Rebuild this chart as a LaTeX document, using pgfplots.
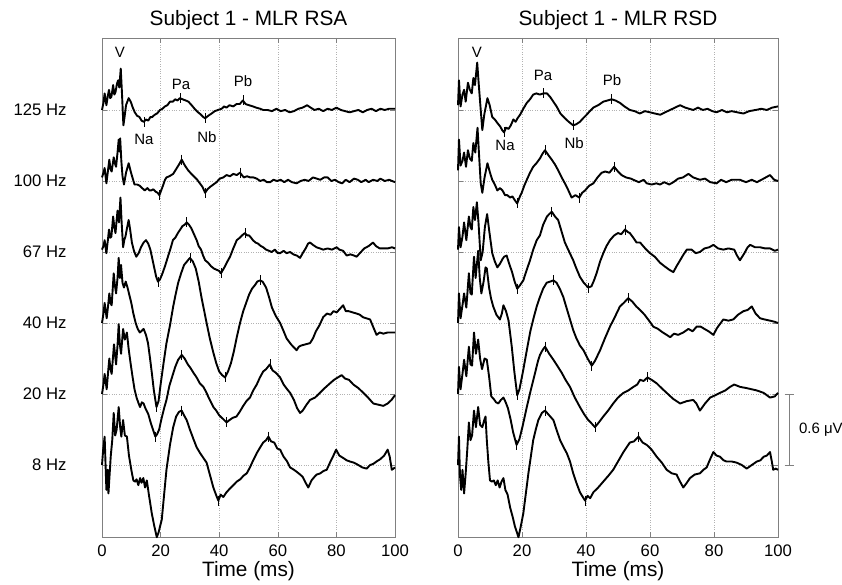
\documentclass[border=0pt]{standalone}
\usepackage{fontspec}
\setmainfont{Liberation Sans}
\usepackage{pgfplots}
\pgfplotsset{compat=1.18}

\pgfplotsset{
  mlr/.style={
    scale only axis, height=499pt,
    xmin=0, xmax=100, ymin=-0.608, ymax=3.608,
    xtick={0,20,...,100}, ytick={0,0.6,1.2,1.8,2.4,3.0},
    grid=major, major grid style={gray!60, dotted, line width=0.6pt},
    axis line style={gray, line width=0.7pt},
    tick style={gray, line width=0.6pt}, major tick length=5pt, tick align=inside,
    ticklabel style={font=\fontsize{16.7}{19}\selectfont},
    xticklabel style={yshift=-4pt},
    /pgf/number format/assume math mode=true,
    title style={font=\fontsize{20.8}{24}\selectfont, yshift=-1pt},
    xlabel={Time (ms)}, xlabel style={font=\fontsize{20.8}{24}\selectfont, yshift=2pt},
    clip=false,
    every axis plot/.append style={black, line width=1.9pt, line join=round},
  },
  off/.style={y filter/.expression={y+#1}},
  pk/.style={only marks, mark=|, mark size=5pt, mark options={line width=0.7pt, black}},
}
\newcommand{\lab}[1]{\fontsize{15}{17}\selectfont #1}

\begin{document}
\begin{tikzpicture}
\useasboundingbox (0,0) rectangle (842pt,584pt);

% ---------------- left panel: RSA ----------------
\begin{axis}[mlr, at={(102pt,47pt)}, anchor=south west, width=293pt,
  title={Subject 1 - MLR RSA},
  yticklabels={8 Hz,20 Hz,40 Hz,67 Hz,100 Hz,125 Hz},
  yticklabel style={xshift=-32pt}]
% 125 Hz
\addplot[off=3.0] coordinates {(0,0.00)(0.5,0.06)(0.9,0.14)(1.5,0.04)(2.0,0.12)(2.4,0.17)(2.8,0.10)(3.2,0.11)(3.8,0.21)(4.2,0.13)(4.6,0.15)(5.1,0.22)(5.5,0.25)(5.9,0.19)(6.4,0.35)(6.8,0.15)(7.3,-0.13)(7.7,-0.06)(8.2,0.04)(9.1,0.10)(9.8,0.07)(10.5,0.02)(11.2,-0.02)(12.0,-0.05)(12.8,-0.06)(13.5,-0.09)(14.3,-0.10)(15.0,-0.08)(15.8,-0.09)(16.5,-0.06)(17.1,-0.06)(18.0,-0.04)(18.8,-0.03)(19.8,0.00)(20.6,0.01)(21.5,0.03)(22.3,0.04)(23.2,0.07)(24.2,0.07)(25.0,0.09)(25.8,0.08)(26.6,0.10)(27.5,0.09)(28.6,0.08)(29.5,0.07)(30.6,0.04)(31.6,0.01)(32.8,-0.02)(33.8,-0.04)(34.6,-0.06)(35.2,-0.07)(36.2,-0.05)(37.4,-0.03)(38.5,-0.01)(39.6,0.00)(40.8,0.01)(41.7,0.03)(42.5,0.02)(43.5,0.04)(44.8,0.03)(45.9,0.05)(47.0,0.05)(48.1,0.08)(49.0,0.05)(50.2,0.04)(51.5,0.03)(52.6,0.02)(54.0,0.01)(55.0,0.00)(56.5,0.00)(58.0,-0.01)(59.5,0.01)(61.0,-0.01)(62.5,0.00)(64.0,-0.02)(65.5,-0.01)(67.0,0.01)(68.5,0.02)(70.0,0.04)(71.2,0.02)(72.5,0.00)(74.0,0.01)(75.5,-0.01)(77.0,0.01)(78.5,0.00)(80.0,0.02)(81.5,0.00)(83.0,-0.01)(84.5,-0.02)(86.0,-0.01)(87.5,0.00)(89.0,-0.02)(90.5,0.00)(92.0,0.01)(93.5,-0.01)(95.0,0.01)(96.5,0.00)(98.0,0.01)(100,0.01)};
% 100 Hz
\addplot[off=2.4] coordinates {(0,0.03)(0.5,0.07)(0.9,0.11)(1.5,-0.02)(2.0,0.08)(2.5,0.18)(2.9,0.10)(3.3,0.08)(4.0,0.20)(4.4,0.15)(4.8,0.12)(5.3,0.24)(5.7,0.35)(5.95,0.25)(6.2,0.36)(6.6,0.17)(7.0,0.04)(7.5,-0.03)(8.2,0.07)(9.1,0.15)(9.8,0.08)(10.5,0.02)(11.1,-0.03)(12.0,-0.03)(12.9,-0.04)(13.7,-0.06)(14.6,-0.08)(15.5,-0.06)(16.2,-0.08)(16.8,-0.08)(17.5,-0.07)(18.3,-0.09)(19.0,-0.10)(19.6,-0.12)(20.2,-0.08)(20.8,-0.04)(21.5,0.01)(22.0,0.03)(23.0,0.04)(24.3,0.06)(25.3,0.10)(26.3,0.14)(27.2,0.18)(28.3,0.13)(29.4,0.09)(30.5,0.06)(31.7,0.03)(32.5,0.01)(33.4,-0.02)(34.3,-0.05)(35.2,-0.10)(36.0,-0.07)(36.9,-0.05)(38.0,-0.03)(39.1,-0.01)(40.2,0.02)(41.4,0.03)(42.5,0.05)(43.7,0.04)(44.8,0.06)(46.0,0.05)(47.1,0.07)(48.4,0.03)(49.5,0.04)(50.6,0.03)(51.7,0.03)(52.8,0.02)(54.0,0.00)(55.2,0.01)(56.3,-0.01)(57.4,-0.01)(58.5,0.01)(59.8,0.00)(61.0,0.01)(62.2,-0.01)(63.5,0.01)(64.8,-0.01)(66.4,-0.02)(67.8,0.00)(69.2,0.01)(70.5,0.00)(72.0,0.03)(73.3,0.02)(74.5,0.01)(75.8,0.03)(77.0,0.03)(78.3,0.00)(79.5,0.01)(80.8,-0.01)(82.0,-0.02)(83.2,0.01)(84.5,-0.01)(86.0,0.02)(87.3,0.01)(88.5,-0.01)(90.0,0.01)(91.0,-0.01)(92.5,0.01)(94.0,0.00)(95.0,0.02)(96.5,0.00)(98.0,0.01)(100,-0.01)};
% 67 Hz
\addplot[off=1.8] coordinates {(0,0.02)(0.5,0.05)(0.9,0.10)(1.5,-0.01)(2.0,0.10)(2.4,0.19)(2.8,0.12)(3.2,0.13)(3.8,0.30)(4.2,0.21)(4.6,0.16)(5.0,0.27)(5.3,0.35)(5.8,0.25)(6.3,0.46)(6.7,0.25)(7.2,0.04)(7.6,0.10)(8.0,0.13)(8.6,0.21)(9.1,0.27)(9.6,0.19)(10.2,0.08)(10.9,0.01)(11.7,-0.04)(12.5,-0.01)(13.3,0.04)(14.2,0.08)(15.0,0.10)(15.8,0.07)(16.5,0.02)(17.2,-0.06)(17.8,-0.13)(18.5,-0.21)(19.1,-0.25)(19.8,-0.23)(20.5,-0.19)(21.5,-0.12)(22.5,-0.04)(23.4,0.03)(24.2,0.10)(25.0,0.12)(25.9,0.16)(26.7,0.19)(27.5,0.22)(28.2,0.23)(28.9,0.25)(29.7,0.23)(30.5,0.20)(31.4,0.15)(32.3,0.10)(33.0,0.05)(33.8,0.02)(34.5,-0.03)(35.2,-0.07)(36.2,-0.09)(37.2,-0.12)(38.2,-0.14)(39.1,-0.15)(40.0,-0.16)(40.6,-0.18)(41.3,-0.15)(42.0,-0.12)(42.8,-0.08)(43.7,-0.04)(44.8,0.03)(46.0,0.10)(47.0,0.12)(47.8,0.14)(48.8,0.16)(49.5,0.14)(50.2,0.14)(50.9,0.12)(51.5,0.10)(52.4,0.08)(53.3,0.07)(54.2,0.05)(55.0,0.04)(56.0,0.02)(57.0,0.01)(57.9,0.00)(59.0,0.02)(60.0,-0.01)(60.8,-0.01)(62.0,0.01)(63.0,-0.01)(64.2,0.00)(65.3,-0.02)(66.5,-0.03)(67.6,-0.05)(68.5,-0.01)(69.5,0.03)(70.3,0.07)(71.0,0.08)(72.0,0.06)(73.2,0.04)(74.4,0.03)(75.5,0.02)(77.0,0.03)(78.5,0.02)(80.1,0.04)(81.0,0.02)(82.3,0.01)(83.5,-0.03)(84.8,-0.02)(86.0,-0.03)(86.9,-0.04)(88.0,-0.01)(89.5,0.03)(91.0,0.05)(92.5,0.08)(93.5,0.05)(94.8,0.03)(96.0,0.03)(97.5,0.03)(99.0,0.04)(100,0.03)};
% 40 Hz
\addplot[off=1.2] coordinates {(0,0.00)(0.5,0.08)(0.9,0.17)(1.6,0.04)(2.1,0.15)(2.5,0.25)(2.9,0.17)(3.3,0.15)(4.0,0.42)(4.4,0.32)(4.8,0.25)(5.3,0.38)(5.7,0.55)(6.1,0.38)(6.5,0.49)(7.0,0.34)(7.5,0.30)(8.1,0.35)(8.7,0.30)(9.3,0.24)(10.0,0.17)(10.7,0.08)(11.5,0.00)(12.2,-0.05)(12.9,-0.08)(13.4,-0.07)(14.2,-0.05)(15.0,-0.10)(15.7,-0.17)(16.4,-0.30)(17.0,-0.42)(17.7,-0.57)(18.4,-0.68)(18.6,-0.71)(19.3,-0.66)(20.0,-0.52)(21.0,-0.34)(22.0,-0.17)(23.2,-0.02)(24.3,0.14)(25.2,0.25)(26.0,0.34)(27.0,0.42)(28.0,0.49)(29.0,0.52)(30.0,0.55)(31.0,0.52)(32.0,0.46)(33.0,0.35)(34.0,0.21)(34.9,0.10)(35.7,0.00)(36.8,-0.13)(38.0,-0.25)(39.0,-0.34)(40.0,-0.41)(41.0,-0.44)(42.0,-0.46)(43.0,-0.41)(44.0,-0.34)(45.0,-0.24)(46.0,-0.12)(47.1,0.00)(48.2,0.10)(49.2,0.17)(50.2,0.24)(51.2,0.29)(52.2,0.32)(53.0,0.35)(53.9,0.36)(54.8,0.35)(56.0,0.30)(57.0,0.22)(58.0,0.13)(59.3,0.06)(60.8,0.00)(62.0,-0.07)(63.0,-0.13)(64.5,-0.18)(66.4,-0.23)(67.2,-0.20)(68.0,-0.19)(69.5,-0.18)(71.0,-0.17)(72.0,-0.13)(73.0,-0.07)(74.2,-0.02)(75.5,0.05)(76.8,0.08)(78.0,0.07)(79.0,0.10)(80.1,0.09)(81.2,0.12)(82.3,0.15)(83.2,0.10)(84.2,0.10)(85.5,0.09)(86.9,0.08)(88.0,0.07)(89.0,0.05)(90.2,0.04)(91.5,0.03)(92.5,-0.03)(93.7,-0.10)(94.8,-0.08)(96.0,-0.09)(97.5,-0.08)(99.0,-0.08)(100,-0.08)};
% 20 Hz
\addplot[off=0.6] coordinates {(0,0.00)(0.5,0.08)(0.9,0.17)(1.6,0.04)(2.1,0.19)(2.5,0.30)(2.9,0.21)(3.3,0.17)(4.1,0.42)(4.5,0.32)(4.8,0.25)(5.3,0.41)(5.7,0.59)(6.1,0.42)(6.5,0.34)(7.2,0.55)(7.8,0.46)(8.5,0.52)(9.1,0.38)(9.7,0.27)(10.4,0.15)(11.1,0.04)(11.8,-0.03)(12.5,-0.08)(13.0,-0.11)(13.6,-0.07)(14.2,-0.08)(14.8,-0.12)(15.8,-0.17)(16.6,-0.24)(17.4,-0.30)(18.2,-0.36)(18.8,-0.34)(19.5,-0.30)(20.3,-0.21)(21.2,-0.12)(22.0,-0.05)(23.0,0.07)(24.0,0.15)(25.0,0.23)(26.0,0.29)(27.2,0.33)(28.2,0.30)(29.3,0.25)(30.2,0.22)(31.2,0.18)(32.3,0.14)(33.4,0.09)(34.6,0.06)(35.5,0.02)(36.4,-0.03)(37.2,-0.07)(38.0,-0.11)(39.0,-0.14)(40.0,-0.18)(41.3,-0.21)(42.5,-0.24)(43.5,-0.22)(44.7,-0.20)(45.9,-0.19)(47.0,-0.15)(48.2,-0.10)(49.3,-0.06)(50.5,-0.03)(51.6,0.03)(52.8,0.08)(53.9,0.14)(55.0,0.19)(56.0,0.21)(57.3,0.25)(58.2,0.20)(59.3,0.18)(60.8,0.14)(62.0,0.08)(63.2,0.04)(64.2,0.01)(65.5,-0.05)(66.6,-0.12)(67.6,-0.16)(68.5,-0.14)(69.8,-0.09)(71.0,-0.05)(72.7,-0.03)(74.4,0.01)(76.0,0.05)(77.8,0.09)(79.2,0.12)(80.5,0.14)(81.8,0.16)(83.0,0.13)(84.3,0.12)(85.8,0.08)(87.5,0.05)(89.2,0.01)(90.8,-0.03)(92.6,-0.08)(94.3,-0.09)(96.0,-0.10)(97.5,-0.08)(98.8,-0.05)(100,-0.01)};
% 8 Hz
\addplot[off=0.0] coordinates {(0,0.00)(0.4,0.13)(0.9,0.24)(1.5,-0.21)(1.9,-0.04)(2.2,-0.24)(2.6,-0.08)(3.0,0.08)(3.5,0.21)(4.0,0.44)(4.5,0.25)(5.0,0.30)(5.7,0.49)(6.2,0.32)(6.6,0.24)(7.2,0.38)(7.8,0.25)(8.5,0.24)(9.2,0.08)(10.0,-0.04)(10.7,-0.13)(11.3,-0.14)(11.8,-0.12)(12.4,-0.17)(13.0,-0.11)(13.5,-0.15)(14.1,-0.11)(14.7,-0.19)(15.3,-0.13)(16.0,-0.25)(17.0,-0.41)(17.8,-0.51)(18.7,-0.61)(19.3,-0.57)(20.4,-0.46)(21.2,-0.25)(22.0,-0.04)(23.2,0.17)(24.3,0.32)(25.3,0.41)(26.3,0.45)(27.2,0.46)(28.0,0.42)(28.9,0.38)(30.0,0.30)(31.2,0.22)(32.3,0.15)(33.5,0.10)(34.6,0.06)(35.7,0.02)(36.8,-0.08)(38.0,-0.19)(38.9,-0.25)(39.7,-0.30)(40.5,-0.25)(41.4,-0.27)(42.5,-0.23)(43.6,-0.20)(44.8,-0.17)(46.0,-0.14)(47.2,-0.12)(48.3,-0.09)(49.4,-0.07)(50.5,-0.02)(51.6,0.04)(52.8,0.10)(54.0,0.15)(55.0,0.19)(56.0,0.21)(56.8,0.24)(57.7,0.20)(58.8,0.19)(59.8,0.14)(60.8,0.13)(62.0,0.07)(63.2,0.03)(64.2,-0.02)(65.5,-0.04)(66.6,-0.06)(67.6,-0.08)(68.5,-0.10)(69.5,-0.15)(70.4,-0.19)(71.5,-0.13)(72.5,-0.10)(73.3,-0.08)(74.5,-0.07)(75.6,-0.05)(76.7,-0.04)(77.8,0.02)(78.8,0.07)(79.9,0.13)(81.0,0.08)(82.3,0.06)(83.5,0.04)(84.6,0.03)(86.0,0.02)(87.5,0.00)(88.8,-0.02)(90.3,-0.03)(91.5,0.00)(92.6,0.01)(93.7,0.03)(95.0,0.05)(96.3,0.08)(97.5,0.13)(98.2,0.07)(98.9,-0.04)(99.5,-0.03)(100,-0.02)};
% peak markers
\addplot[pk, off=3.0] coordinates {(14.3,-0.10)(26.6,0.10)(35.2,-0.07)(48.1,0.08)};
\addplot[pk, off=2.4] coordinates {(19.6,-0.12)(27.2,0.18)(35.2,-0.10)(47.1,0.07)};
\addplot[pk, off=1.8] coordinates {(19.1,-0.25)(28.9,0.25)(40.6,-0.18)(48.8,0.16)};
\addplot[pk, off=1.2] coordinates {(18.6,-0.71)(30.0,0.55)(42.0,-0.46)(53.9,0.36)};
\addplot[pk, off=0.6] coordinates {(18.2,-0.36)(27.2,0.33)(42.5,-0.24)(57.3,0.25)};
\addplot[pk, off=0.0] coordinates {(27.2,0.46)(39.7,-0.30)(56.8,0.24)};
\node at (axis cs:6.1,3.49) {\lab{V}};
\node at (axis cs:14.3,2.75) {\lab{Na}};
\node at (axis cs:27.0,3.22) {\lab{Pa}};
\node at (axis cs:35.8,2.77) {\lab{Nb}};
\node at (axis cs:48.1,3.24) {\lab{Pb}};
\end{axis}

% ---------------- right panel: RSD ----------------
\begin{axis}[mlr, at={(458pt,47pt)}, anchor=south west, width=320pt,
  title={Subject 1 - MLR RSD}, yticklabels={}]
% 125 Hz
\addplot[off=3.0] coordinates {(0,0.04)(0.3,0.25)(0.8,0.03)(1.4,0.13)(1.9,0.17)(2.4,0.07)(3.1,0.23)(3.7,0.17)(4.3,0.14)(4.8,0.27)(5.3,0.21)(6.0,0.40)(6.5,0.21)(7.1,0.00)(7.6,-0.17)(8.2,-0.04)(9.2,0.10)(9.9,0.04)(10.7,-0.06)(11.5,-0.08)(12.3,-0.11)(13.2,-0.14)(13.8,-0.17)(14.4,-0.19)(15.0,-0.15)(15.8,-0.16)(16.5,-0.13)(17.3,-0.08)(18.0,-0.10)(18.6,-0.07)(19.4,-0.04)(20.4,0.01)(21.5,0.06)(22.5,0.09)(23.5,0.13)(24.5,0.14)(25.6,0.13)(26.7,0.14)(27.8,0.14)(28.8,0.11)(29.8,0.07)(30.8,0.03)(32.0,-0.03)(33.4,-0.07)(34.6,-0.10)(36.0,-0.13)(37.0,-0.12)(38.1,-0.10)(39.1,-0.07)(40.2,-0.04)(41.2,-0.01)(42.3,0.02)(43.8,0.04)(45.4,0.07)(46.7,0.08)(48.0,0.09)(49.2,0.08)(50.6,0.06)(52.0,0.03)(53.7,0.00)(55.2,-0.01)(56.8,-0.03)(58.4,-0.01)(60.0,-0.02)(61.5,-0.03)(63.2,-0.04)(64.7,-0.02)(66.3,0.00)(67.8,0.02)(69.4,0.04)(71.0,0.02)(72.2,0.01)(73.5,0.00)(75.0,0.02)(76.5,0.00)(78.0,0.01)(79.5,-0.01)(80.8,-0.02)(82.5,0.00)(84.0,-0.02)(85.5,-0.01)(87.3,-0.02)(89.2,-0.03)(91.0,-0.01)(93.0,0.00)(94.8,0.01)(96.5,0.00)(98.2,0.02)(100,0.03)};
% 100 Hz
\addplot[off=2.4] coordinates {(0,0.09)(0.3,0.35)(0.8,0.13)(1.4,0.17)(1.9,0.24)(2.5,0.12)(3.1,0.26)(3.7,0.19)(4.3,0.17)(4.8,0.32)(5.4,0.24)(6.1,0.45)(6.6,0.21)(7.1,-0.02)(7.6,-0.10)(8.3,0.03)(9.2,0.15)(10.0,0.07)(10.7,0.01)(11.5,-0.03)(12.3,-0.08)(13.1,-0.06)(13.9,-0.08)(14.7,-0.12)(15.4,-0.12)(16.3,-0.14)(17.0,-0.13)(17.7,-0.16)(18.5,-0.19)(19.2,-0.14)(19.9,-0.10)(20.7,-0.04)(21.5,0.01)(22.5,0.07)(23.5,0.12)(24.5,0.15)(25.6,0.19)(26.4,0.23)(27.2,0.26)(28.2,0.22)(29.3,0.18)(30.3,0.14)(31.3,0.09)(32.4,0.03)(33.4,-0.02)(34.5,-0.08)(35.5,-0.14)(36.7,-0.12)(37.9,-0.14)(38.8,-0.10)(39.7,-0.08)(41.0,-0.04)(42.3,-0.02)(43.6,0.03)(44.9,0.07)(46.0,0.08)(47.3,0.07)(48.8,0.12)(50.0,0.08)(51.1,0.05)(52.5,0.03)(54.0,0.02)(54.8,0.01)(56.5,-0.01)(58.0,0.01)(59.0,-0.02)(60.5,-0.03)(62.0,-0.02)(63.1,-0.03)(64.5,-0.01)(66.0,-0.03)(67.3,-0.01)(68.8,0.02)(70.3,0.03)(72.0,0.06)(73.5,0.03)(75.6,0.01)(77.2,0.02)(78.8,-0.01)(80.8,-0.02)(82.2,0.01)(83.8,-0.01)(85.5,0.01)(88.1,0.01)(90.0,-0.01)(91.8,0.01)(93.4,-0.01)(95.5,0.02)(97.5,0.05)(98.8,0.01)(100,0.00)};
% 67 Hz
\addplot[off=1.8] coordinates {(0,0.02)(0.3,0.21)(0.8,0.04)(1.4,0.13)(1.9,0.25)(2.6,0.10)(3.4,0.30)(3.9,0.21)(4.3,0.19)(4.8,0.38)(5.3,0.27)(5.9,0.42)(6.4,0.25)(7.1,-0.07)(7.7,0.00)(8.4,0.21)(9.1,0.32)(9.8,0.17)(10.7,-0.01)(11.5,-0.08)(12.3,-0.13)(13.1,-0.10)(13.9,-0.06)(14.4,-0.04)(15.2,-0.03)(16.0,-0.10)(16.9,-0.17)(17.7,-0.25)(18.5,-0.31)(19.4,-0.28)(20.4,-0.24)(21.5,-0.15)(22.5,-0.07)(23.5,0.02)(24.6,0.10)(25.6,0.14)(26.6,0.23)(27.8,0.30)(28.5,0.32)(29.3,0.34)(30.3,0.30)(31.3,0.27)(32.4,0.17)(33.4,0.08)(34.6,0.01)(36.0,-0.07)(37.0,-0.14)(38.1,-0.21)(39.3,-0.26)(40.7,-0.30)(41.7,-0.29)(42.5,-0.24)(43.3,-0.18)(44.4,-0.08)(45.4,-0.01)(46.4,0.05)(47.5,0.10)(48.8,0.14)(50.0,0.16)(51.0,0.15)(52.2,0.19)(53.0,0.17)(53.7,0.16)(54.8,0.12)(55.8,0.08)(56.9,0.08)(58.5,0.03)(60.0,-0.01)(61.5,-0.04)(63.1,-0.09)(64.5,-0.12)(66.0,-0.15)(67.3,-0.17)(68.3,-0.12)(69.4,-0.07)(70.5,-0.02)(71.5,0.02)(73.0,0.02)(74.3,-0.01)(75.6,0.00)(77.0,0.03)(78.5,0.04)(79.8,0.06)(81.3,0.03)(82.9,0.02)(84.5,0.03)(86.3,0.02)(87.2,-0.03)(88.1,-0.07)(89.5,-0.01)(90.5,0.04)(91.3,0.06)(92.8,0.04)(94.4,0.04)(96.0,0.03)(97.5,0.03)(99.0,0.01)(100,0.02)};
% 40 Hz
\addplot[off=1.2] coordinates {(0,0.00)(0.3,0.25)(0.8,0.04)(1.4,0.15)(1.9,0.25)(2.6,0.13)(3.4,0.42)(3.9,0.25)(4.3,0.24)(5.0,0.56)(5.5,0.38)(6.3,0.61)(6.8,0.38)(7.3,0.25)(8.0,0.35)(8.6,0.47)(9.0,0.46)(9.7,0.30)(10.3,0.21)(11.0,0.14)(12.0,0.07)(13.1,0.03)(13.7,0.08)(14.2,0.15)(15.0,0.10)(15.8,0.02)(16.8,-0.20)(17.6,-0.41)(18.5,-0.61)(19.2,-0.56)(20.3,-0.41)(21.5,-0.23)(22.6,-0.07)(23.6,0.04)(24.6,0.14)(25.6,0.22)(26.6,0.29)(27.7,0.34)(28.8,0.35)(29.8,0.36)(30.8,0.34)(31.8,0.29)(32.9,0.22)(34.0,0.12)(35.0,0.03)(36.0,-0.06)(37.0,-0.13)(38.1,-0.19)(39.2,-0.23)(40.5,-0.30)(41.8,-0.36)(42.8,-0.32)(44.4,-0.23)(45.9,-0.13)(47.5,-0.03)(49.0,0.05)(50.6,0.14)(51.8,0.17)(53.2,0.21)(54.5,0.18)(55.7,0.14)(56.9,0.11)(58.3,0.07)(59.7,0.02)(61.0,-0.03)(62.5,-0.05)(64.0,-0.08)(65.2,-0.10)(66.3,-0.12)(67.5,-0.09)(68.8,-0.10)(70.4,-0.08)(72.0,-0.05)(73.3,-0.07)(74.6,-0.03)(75.8,-0.03)(77.0,-0.05)(78.3,-0.07)(79.8,-0.10)(81.0,-0.04)(82.9,0.03)(84.5,0.02)(86.0,0.03)(87.5,0.07)(89.2,0.10)(90.5,0.11)(91.8,0.14)(93.0,0.08)(94.4,0.04)(95.8,0.03)(97.5,0.02)(99.0,0.01)(100,0.00)};
% 20 Hz
\addplot[off=0.6] coordinates {(0,0.00)(0.3,0.23)(0.8,0.04)(1.4,0.17)(1.9,0.29)(2.6,0.15)(3.4,0.40)(3.9,0.25)(4.4,0.24)(5.0,0.52)(5.6,0.34)(6.3,0.46)(6.9,0.30)(7.5,0.21)(8.3,0.30)(9.0,0.29)(9.7,0.15)(10.4,-0.02)(11.1,-0.04)(11.9,-0.07)(12.6,-0.08)(13.4,-0.05)(14.2,-0.03)(14.9,-0.07)(15.6,-0.12)(16.4,-0.21)(17.2,-0.32)(18.3,-0.43)(19.2,-0.38)(20.2,-0.27)(21.5,-0.11)(22.8,0.04)(24.1,0.18)(25.0,0.28)(25.6,0.33)(26.4,0.37)(27.2,0.40)(28.5,0.34)(29.8,0.29)(31.0,0.24)(32.4,0.18)(33.6,0.12)(35.0,0.06)(36.5,-0.03)(38.1,-0.11)(39.4,-0.17)(40.7,-0.22)(41.8,-0.25)(42.8,-0.28)(44.0,-0.24)(45.4,-0.19)(46.9,-0.14)(48.5,-0.08)(50.0,-0.03)(51.7,0.01)(53.2,0.03)(54.8,0.06)(56.0,0.08)(56.9,0.12)(58.0,0.11)(59.2,0.14)(60.5,0.12)(62.1,0.09)(63.6,0.05)(65.2,0.01)(67.2,-0.04)(69.4,-0.08)(71.5,-0.06)(73.5,-0.05)(74.5,-0.08)(75.6,-0.14)(77.2,-0.08)(78.8,-0.03)(80.4,-0.01)(81.9,0.01)(83.5,0.03)(85.0,0.06)(86.3,0.08)(88.2,0.06)(90.2,0.05)(91.8,0.04)(93.4,0.03)(95.5,0.01)(97.5,-0.03)(99.0,-0.02)(100,0.01)};
% 8 Hz
\addplot[off=0.0] coordinates {(0,0.00)(0.3,0.24)(0.6,-0.08)(1.0,-0.21)(1.4,-0.04)(1.9,-0.24)(2.4,-0.07)(2.9,0.13)(3.4,0.36)(3.9,0.21)(4.4,0.25)(5.0,0.46)(5.6,0.32)(6.3,0.49)(6.9,0.34)(7.6,0.32)(8.2,0.38)(8.6,0.41)(9.0,0.21)(9.5,0.02)(10.0,-0.13)(10.6,-0.14)(11.2,-0.13)(11.8,-0.17)(12.4,-0.13)(13.0,-0.19)(13.6,-0.14)(14.2,-0.11)(14.8,-0.21)(15.5,-0.25)(16.3,-0.36)(17.1,-0.44)(17.8,-0.52)(18.9,-0.61)(19.6,-0.52)(20.4,-0.41)(21.2,-0.24)(22.0,-0.07)(22.8,0.08)(23.5,0.21)(24.3,0.30)(25.1,0.38)(26.2,0.44)(27.2,0.46)(28.5,0.42)(29.8,0.38)(30.9,0.29)(31.9,0.21)(33.0,0.15)(34.0,0.10)(35.0,0.03)(36.0,-0.07)(37.0,-0.15)(38.1,-0.23)(39.0,-0.27)(39.7,-0.30)(40.5,-0.26)(41.3,-0.28)(42.3,-0.23)(43.8,-0.19)(45.4,-0.14)(47.0,-0.09)(48.5,-0.04)(50.0,0.03)(51.7,0.11)(52.7,0.15)(53.7,0.19)(55.0,0.20)(56.4,0.24)(57.7,0.19)(59.0,0.17)(60.5,0.13)(62.1,0.07)(63.7,0.02)(65.2,-0.04)(66.8,-0.07)(68.3,-0.08)(69.4,-0.14)(70.4,-0.19)(71.5,-0.15)(72.5,-0.11)(74.0,-0.08)(75.6,-0.07)(76.7,-0.04)(77.7,-0.02)(78.8,0.05)(79.8,0.11)(80.8,0.08)(81.9,0.07)(83.0,0.04)(83.9,0.03)(85.5,0.03)(87.1,0.02)(88.7,0.00)(90.2,-0.03)(91.8,0.00)(93.4,0.03)(94.5,0.04)(95.5,0.07)(96.5,0.08)(97.5,0.11)(98.0,0.04)(98.5,-0.04)(99.3,-0.03)(100,-0.04)};
% peak markers
\addplot[pk, off=3.0] coordinates {(14.4,-0.19)(26.7,0.14)(36.0,-0.13)(48.0,0.09)};
\addplot[pk, off=2.4] coordinates {(18.5,-0.19)(27.2,0.26)(37.9,-0.14)(48.8,0.12)};
\addplot[pk, off=1.8] coordinates {(18.5,-0.31)(29.3,0.34)(40.7,-0.30)(52.2,0.19)};
\addplot[pk, off=1.2] coordinates {(18.5,-0.61)(29.8,0.36)(41.8,-0.36)(53.2,0.21)};
\addplot[pk, off=0.6] coordinates {(18.3,-0.43)(27.2,0.40)(42.8,-0.28)(59.2,0.14)};
\addplot[pk, off=0.0] coordinates {(27.2,0.46)(39.7,-0.30)(56.4,0.24)};
\node at (axis cs:5.9,3.49) {\lab{V}};
\node at (axis cs:14.7,2.70) {\lab{Na}};
\node at (axis cs:26.6,3.29) {\lab{Pa}};
\node at (axis cs:36.3,2.72) {\lab{Nb}};
\node at (axis cs:48.1,3.25) {\lab{Pb}};
% 0.6 uV scale bar
\draw[gray, line width=0.8pt] (axis cs:103.5,0) -- (axis cs:103.5,0.6)
  (axis cs:102.1,0) -- (axis cs:104.9,0) (axis cs:102.1,0.6) -- (axis cs:104.9,0.6);
\node[anchor=west, inner sep=0pt] at (axis cs:106.5,0.3) {\lab{0.6 μV}};
\end{axis}
\end{tikzpicture}
\end{document}
